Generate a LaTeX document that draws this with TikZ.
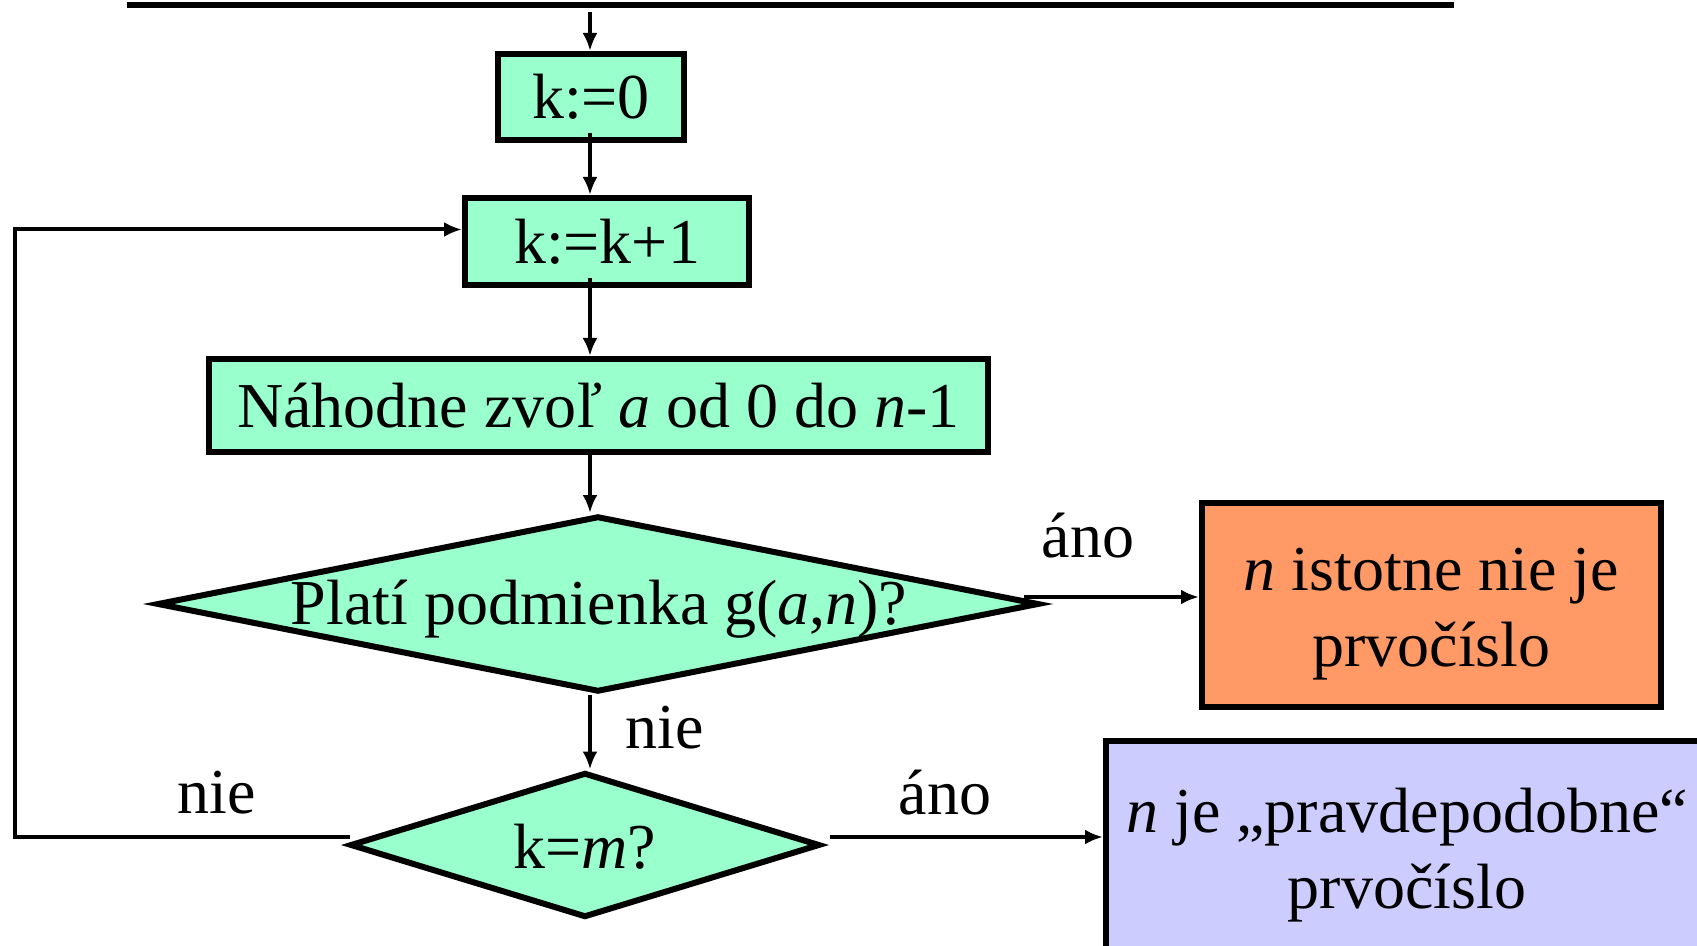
\documentclass[tikz,border=0pt]{standalone}
\usepackage{fontspec}
\setmainfont{Liberation Serif}
\usetikzlibrary{shapes.geometric,arrows.meta}
\definecolor{boxgreen}{HTML}{99FFCC}
\definecolor{boxorange}{HTML}{FF9966}
\definecolor{boxpurple}{HTML}{CCCCFF}
\tikzset{
  txt/.style={font=\fontsize{32pt}{38pt}\selectfont, inner sep=0pt},
  procbox/.style={txt, draw=black, line width=3pt, fill=boxgreen, align=center},
  endbox/.style={draw=black, line width=3pt, inner sep=0pt},
  decision/.style={diamond, draw=black, line width=3pt, fill=boxgreen, inner sep=0pt},
  arr/.style={line width=2pt, -{Latex[length=9pt,width=7.5pt]}}
}
\begin{document}
\begin{tikzpicture}[x=0.5pt,y=-0.5pt]
\clip (0,0) rectangle (1697,946);
% top bar
\coordinate (topL) at (127,5);
\coordinate (topR) at (1454,5);
\draw[line width=3pt] (topL) -- (topR);
\coordinate (ta) at (590,12);
% nodes
\node[procbox, minimum width=93pt, minimum height=43pt] (k0) at (591,97) {k:=0};
\node[procbox, minimum width=142pt, minimum height=43.5pt] (k1) at (607,241.5) {k:=k+1};
\node[procbox, minimum width=389.5pt, minimum height=46.5pt] (rand) at (598.5,405.5) {Náhodne zvoľ \textit{a} od 0 do \textit{n}-1};
\node[decision, minimum width=441pt, minimum height=88pt] (d1) at (598,604) {};
\node[txt] (d1t) at (599,609) {Platí podmienka g(\textit{a},\textit{n})?};
\node[decision, minimum width=235pt, minimum height=72.5pt] (d2) at (585,845) {};
\node[txt] (d2t) at (585,847) {k=\textit{m}?};
\node[endbox, fill=boxorange, minimum width=229.5pt, minimum height=102pt] (o) at (1431.5,605) {};
\node[txt, align=center] (ot) at (1431.5,614) {\textit{n} istotne nie je\\prvočíslo};
\node[endbox, fill=boxpurple, minimum width=301pt, minimum height=110pt] (p) at (1407,851) {};
\node[txt, align=center] (pt) at (1407,855) {\textit{n} je „pravdepodobne“\\prvočíslo};
% connectors
\draw[arr] (ta) -- (ta |- k0.north);
\draw[arr] ([yshift=5pt]ta |- k0.south) -- (ta |- k1.north);
\draw[arr] ([yshift=5pt]ta |- k1.south) -- (ta |- rand.north);
\draw[arr] (ta |- rand.south) -- (ta |- d1.north);
\draw[arr] (ta |- d1.south) -- (ta |- d2.north);
\draw[arr] ([xshift=-9pt,yshift=3.5pt]d1.east) coordinate (s1) -- (s1 -| o.west);
\coordinate (lx) at (15,0);
\draw[arr] ([xshift=1.5pt,yshift=4pt]d2.west) coordinate (s3) -- (s3 -| lx) |- ([yshift=6pt]k1.west);
\draw[arr] ([xshift=3.5pt,yshift=4pt]d2.east) coordinate (s2) -- (s2 -| p.west);
% labels
\node[txt] (l1) at (1088,536) {áno};
\node[txt] (l2) at (665,728) {nie};
\node[txt] (l3) at (217,793) {nie};
\node[txt] (l4) at (945,793) {áno};
\end{tikzpicture}
\end{document}
